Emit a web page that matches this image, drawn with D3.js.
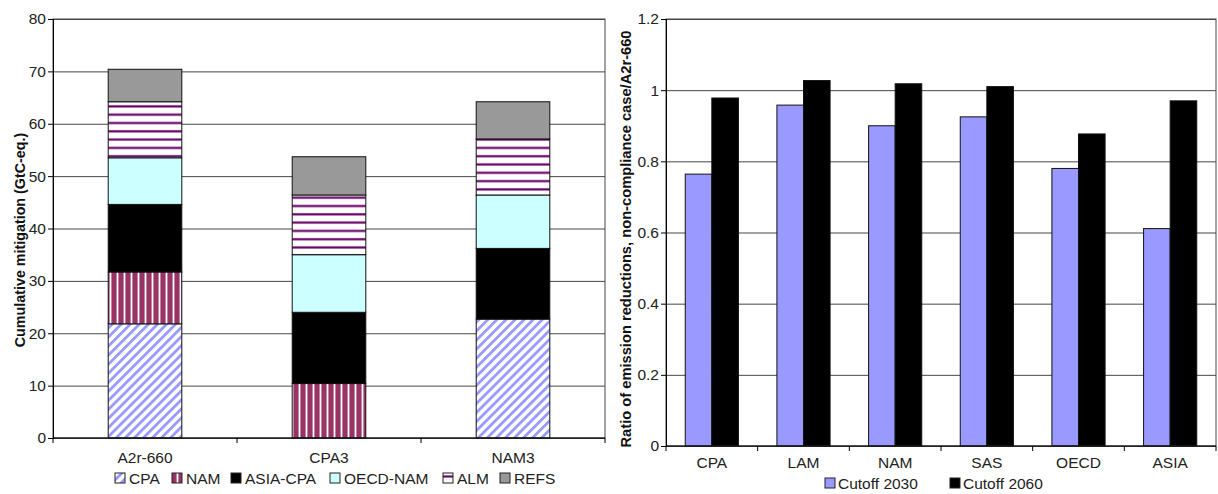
<!DOCTYPE html>
<html>
<head>
<meta charset="utf-8">
<script src="https://cdn.jsdelivr.net/npm/d3@7/dist/d3.min.js"></script>
<style>
  body { margin: 0; background: #fff; }
  svg { display: block; font-family: "Liberation Sans", Arial, sans-serif; }
</style>
</head>
<body>
<svg id="chart" width="1218" height="494"></svg>
<script>
// left panel: cumulative mitigation per scenario, stacked by region
const scenarios = ['A2r-660', 'CPA3', 'NAM3'];
const regions = ['CPA', 'NAM', 'ASIA-CPA', 'OECD-NAM', 'ALM', 'REFS'];
const cpa = [21.8, 0, 22.7];
const nam = [9.9, 10.4, 0];
const asiaCpa = [12.9, 13.6, 13.5];
const oecdNam = [8.9, 11.0, 10.2];
const alm = [10.7, 11.4, 10.7];
const refs = [6.2, 7.3, 7.1];
const mitigationTicks = [0, 10, 20, 30, 40, 50, 60, 70, 80];

// right panel: ratio of emission reductions
const ratioRegions = ['CPA', 'LAM', 'NAM', 'SAS', 'OECD', 'ASIA'];
const seriesNames = ['Cutoff 2030', 'Cutoff 2060'];
const cutoff2030 = [0.764, 0.958, 0.900, 0.925, 0.780, 0.611];
const cutoff2060 = [0.978, 1.027, 1.018, 1.010, 0.877, 0.970];
const ratioTicks = [0, 0.2, 0.4, 0.6, 0.8, 1, 1.2];

const svg = d3.select('#chart');
const defs = svg.append('defs');

// fill patterns like the old Excel ones
const pCpa = defs.append('pattern').attr('id', 'p-cpa')
  .attr('patternUnits', 'userSpaceOnUse').attr('width', 6.4).attr('height', 6.4)
  .attr('patternTransform', 'rotate(45)');
pCpa.append('rect').attr('width', 6.4).attr('height', 6.4).attr('fill', '#fff');
pCpa.append('rect').attr('width', 2.8).attr('height', 6.4).attr('fill', '#9999ff');

const pNam = defs.append('pattern').attr('id', 'p-nam')
  .attr('patternUnits', 'userSpaceOnUse').attr('width', 7).attr('height', 7);
pNam.append('rect').attr('width', 7).attr('height', 7).attr('fill', '#993366');
pNam.append('rect').attr('x', 4.6).attr('width', 1.8).attr('height', 7).attr('fill', '#fff');

const pAlm = defs.append('pattern').attr('id', 'p-alm')
  .attr('patternUnits', 'userSpaceOnUse').attr('width', 8).attr('height', 8.3);
pAlm.append('rect').attr('width', 8).attr('height', 8.3).attr('fill', '#fff');
pAlm.append('rect').attr('y', 5.4).attr('width', 8).attr('height', 2.8).attr('fill', '#c9a3cf');
pAlm.append('rect').attr('y', 5.9).attr('width', 8).attr('height', 1.8).attr('fill', '#660066');

const regionFill = {
  'CPA': 'url(#p-cpa)',
  'NAM': 'url(#p-nam)',
  'ASIA-CPA': '#000000',
  'OECD-NAM': '#ccffff',
  'ALM': 'url(#p-alm)',
  'REFS': '#999999',
};

const gridColor = '#474747';
const fontSize = 15.5;

// axis text styling shared by both panels
function styleAxis(g) {
  g.attr('font-family', null).attr('font-size', null);
  g.select('.domain').attr('stroke', '#000');
  g.selectAll('text').attr('font-size', fontSize).attr('fill', '#222');
}

// ---------- left panel ----------
const L = { left: 53, right: 605, top: 19, bottom: 438 };

const rows = scenarios.map((s, i) => ({
  scenario: s,
  'CPA': cpa[i], 'NAM': nam[i], 'ASIA-CPA': asiaCpa[i],
  'OECD-NAM': oecdNam[i], 'ALM': alm[i], 'REFS': refs[i],
}));
const stacked = d3.stack().keys(regions)(rows);

const xL = d3.scaleBand().domain(scenarios).range([L.left, L.right]);
const yL = d3.scaleLinear().domain([0, 80]).range([L.bottom, L.top]);

const left = svg.append('g');

// gridlines
left.append('g')
  .attr('transform', `translate(${L.left},0)`)
  .call(d3.axisLeft(yL).tickValues(mitigationTicks).tickFormat('').tickSize(-(L.right - L.left)))
  .call(g => g.select('.domain').remove())
  .call(g => g.selectAll('line').attr('stroke', gridColor));

const barW = xL.bandwidth() * 0.4;
left.append('g').selectAll('g')
  .data(stacked)
  .join('g')
  .attr('fill', d => regionFill[d.key])
  .selectAll('rect')
  .data(d => d.filter(v => v[1] - v[0] > 0))
  .join('rect')
  .attr('x', d => xL(d.data.scenario) + (xL.bandwidth() - barW) / 2)
  .attr('y', d => yL(d[1]))
  .attr('width', barW)
  .attr('height', d => yL(d[0]) - yL(d[1]))
  .attr('stroke', '#111')
  .attr('stroke-width', 1);

// frame
left.append('rect')
  .attr('x', L.left).attr('y', L.top)
  .attr('width', L.right - L.left).attr('height', L.bottom - L.top)
  .attr('fill', 'none').attr('stroke', gridColor);

// y axis
left.append('g')
  .attr('transform', `translate(${L.left},0)`)
  .call(d3.axisLeft(yL).tickValues(mitigationTicks).tickSize(5).tickPadding(2))
  .call(styleAxis);

// x axis: ticks between categories
const xAxisL = left.append('g').attr('transform', `translate(0,${L.bottom})`);
xAxisL.append('line').attr('x1', L.left).attr('x2', L.right).attr('stroke', '#000');
xAxisL.selectAll('line.tk')
  .data(d3.range(scenarios.length + 1))
  .join('line').attr('class', 'tk')
  .attr('x1', i => L.left + i * xL.step()).attr('x2', i => L.left + i * xL.step())
  .attr('y2', 5).attr('stroke', '#000');
xAxisL.selectAll('text')
  .data(scenarios)
  .join('text')
  .attr('x', d => xL(d) + xL.bandwidth() / 2)
  .attr('y', 25)
  .attr('text-anchor', 'middle')
  .attr('font-size', fontSize)
  .attr('fill', '#222')
  .text(d => d);

left.append('text')
  .attr('transform', 'translate(25,240) rotate(-90)')
  .attr('text-anchor', 'middle')
  .attr('font-size', 14.3)
  .attr('font-weight', 'bold')
  .attr('fill', '#111')
  .text('Cumulative mitigation (GtC-eq.)');

// legend
const legL = left.append('g').attr('transform', 'translate(0,478)');
const legLx = [115, 172, 231, 330, 443, 500];
const itemL = legL.selectAll('g').data(regions).join('g')
  .attr('transform', (d, i) => `translate(${legLx[i]},0)`);
itemL.append('rect')
  .attr('x', 0).attr('y', -5).attr('width', 10).attr('height', 10)
  .attr('fill', d => regionFill[d]).attr('stroke', '#222');
itemL.append('text')
  .attr('x', 14).attr('y', 5.5)
  .attr('font-size', fontSize).attr('fill', '#222')
  .text(d => d);

// ---------- right panel ----------
const R = { left: 666, right: 1216, top: 19, bottom: 446 };

const xR = d3.scaleBand().domain(ratioRegions).range([R.left, R.right]);
const xInner = d3.scaleBand().domain(seriesNames)
  .range([xR.bandwidth() * 0.21, xR.bandwidth() * 0.79]);
const yR = d3.scaleLinear().domain([0, 1.2]).range([R.bottom, R.top]);
const seriesFill = { 'Cutoff 2030': '#9999ff', 'Cutoff 2060': '#000000' };

const ratioRows = ratioRegions.map((r, i) => ({
  region: r,
  values: [
    { series: 'Cutoff 2030', value: cutoff2030[i] },
    { series: 'Cutoff 2060', value: cutoff2060[i] },
  ],
}));

const right = svg.append('g');

right.append('g')
  .attr('transform', `translate(${R.left},0)`)
  .call(d3.axisLeft(yR).tickValues(ratioTicks).tickFormat('').tickSize(-(R.right - R.left)))
  .call(g => g.select('.domain').remove())
  .call(g => g.selectAll('line').attr('stroke', gridColor));

right.append('g').selectAll('g')
  .data(ratioRows)
  .join('g')
  .attr('transform', d => `translate(${xR(d.region)},0)`)
  .selectAll('rect')
  .data(d => d.values)
  .join('rect')
  .attr('x', d => xInner(d.series))
  .attr('y', d => yR(d.value))
  .attr('width', xInner.bandwidth())
  .attr('height', d => yR(0) - yR(d.value))
  .attr('fill', d => seriesFill[d.series])
  .attr('stroke', '#111');

right.append('rect')
  .attr('x', R.left).attr('y', R.top)
  .attr('width', R.right - R.left).attr('height', R.bottom - R.top)
  .attr('fill', 'none').attr('stroke', gridColor);

right.append('g')
  .attr('transform', `translate(${R.left},0)`)
  .call(d3.axisLeft(yR).tickValues(ratioTicks).tickFormat(d => String(d)).tickSize(5).tickPadding(2))
  .call(styleAxis);

const xAxisR = right.append('g').attr('transform', `translate(0,${R.bottom})`);
xAxisR.append('line').attr('x1', R.left).attr('x2', R.right).attr('stroke', '#000');
xAxisR.selectAll('line.tk')
  .data(d3.range(ratioRegions.length + 1))
  .join('line').attr('class', 'tk')
  .attr('x1', i => R.left + i * xR.step()).attr('x2', i => R.left + i * xR.step())
  .attr('y2', 5).attr('stroke', '#000');
xAxisR.selectAll('text')
  .data(ratioRegions)
  .join('text')
  .attr('x', d => xR(d) + xR.bandwidth() / 2)
  .attr('y', 22)
  .attr('text-anchor', 'middle')
  .attr('font-size', fontSize)
  .attr('fill', '#222')
  .text(d => d);

right.append('text')
  .attr('transform', 'translate(631,239) rotate(-90)')
  .attr('text-anchor', 'middle')
  .attr('font-size', 14.7)
  .attr('font-weight', 'bold')
  .attr('fill', '#111')
  .text('Ratio of emission reductions, non-compliance case/A2r-660');

const legR = right.append('g').attr('transform', 'translate(0,483)');
const legRx = [825, 950];
const itemR = legR.selectAll('g').data(seriesNames).join('g')
  .attr('transform', (d, i) => `translate(${legRx[i]},0)`);
itemR.append('rect')
  .attr('x', 0).attr('y', -5).attr('width', 10).attr('height', 10)
  .attr('fill', d => seriesFill[d]).attr('stroke', '#222');
itemR.append('text')
  .attr('x', 13).attr('y', 5.5)
  .attr('font-size', fontSize).attr('fill', '#222')
  .text(d => d);
</script>
</body>
</html>
